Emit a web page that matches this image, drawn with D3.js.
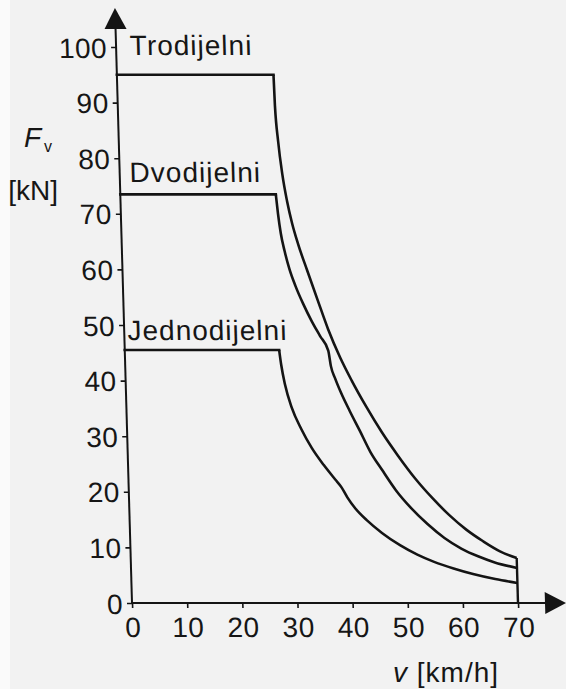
<!DOCTYPE html>
<html><head><meta charset="utf-8">
<script src="https://cdn.jsdelivr.net/npm/d3@7"></script>
<style>
html,body{margin:0;padding:0;background:#f3f3f3;}
svg{display:block;}
text{font-family:"Liberation Sans",Arial,Helvetica,sans-serif;fill:#161616;}
</style></head><body>
<svg id="chart" width="566" height="689"></svg>
<script>
// ---- data ----
const speedTicks = [0, 10, 20, 30, 40, 50, 60, 70];
const forceTicks = [0, 10, 20, 30, 40, 50, 60, 70, 80, 90, 100];
const seriesNames = ["Trodijelni", "Dvodijelni", "Jednodijelni"];

const troSpeed = [0, 28.4, 28.5, 28.9, 29.5, 30.2, 31.0, 32.0, 33.5, 35.3, 37.0, 39.0, 41.0, 43.5, 46.2, 49.0, 52.0, 55.0, 58.0, 61.0, 64.0, 67.0, 70];
const troForce = [95, 95, 89.5, 83, 77, 72.3, 68.3, 64.5, 59.8, 54.3, 49.2, 44.2, 40.0, 35.3, 30.7, 26.5, 22.4, 18.9, 15.8, 13.2, 11.1, 9.3, 8.1];

const dvoSpeed = [0, 28.2, 28.5, 28.9, 29.5, 30.3, 31.3, 32.6, 34.0, 35.5, 36.9, 37.3, 38.0, 39.0, 40.5, 42.2, 44.0, 46.0, 48.5, 51.0, 54.0, 57.0, 60.0, 63.0, 66.0, 70];
const dvoForce = [73.5, 73.5, 70, 66.5, 63.3, 60.0, 57.0, 53.8, 50.8, 48.0, 45.4, 42.6, 40.4, 37.8, 34.5, 31.0, 27.2, 24.0, 20.2, 17.2, 14.2, 11.7, 9.8, 8.4, 7.3, 6.3];

const jedSpeed = [0, 28.0, 28.3, 28.9, 30.0, 31.6, 33.4, 35.5, 37.5, 38.6, 39.6, 41.0, 43.0, 45.7, 48.9, 52.0, 55.0, 58.5, 62.0, 66.0, 70];
const jedForce = [45.5, 45.5, 42.8, 39.2, 35.1, 31.3, 27.9, 24.8, 22.2, 20.8, 19.0, 17.0, 14.9, 12.6, 10.4, 8.7, 7.4, 6.2, 5.2, 4.3, 3.6];

const seriesSpeed = [troSpeed, dvoSpeed, jedSpeed];
const seriesForce = [troForce, dvoForce, jedForce];

// ---- layout ----
const W = 566, H = 689;
const x0 = 132, x70 = 518, yBase = 603, y100 = 47;
const skewDeg = 1.64;
const ink = "#141414";

const svg = d3.select("#chart");
svg.append("rect").attr("width", W).attr("height", H).attr("fill", "#f2f2f2");
svg.append("rect").attr("width", 10).attr("height", H).attr("fill", "#fafafa");

const x = d3.scaleLinear().domain([0, 70]).range([x0, x70]);
const y = d3.scaleLinear().domain([0, 100]).range([yBase, y100]);

const g = svg.append("g")
  .attr("transform", `translate(0,${yBase}) skewX(${skewDeg}) translate(0,${-yBase})`);

// axes
const xAxis = d3.axisBottom(x).tickValues(speedTicks).tickSize(5).tickPadding(9).tickFormat(d3.format("d"));
const yAxis = d3.axisLeft(y).tickValues(forceTicks).tickSize(5).tickPadding(4).tickFormat(d3.format("d"));

const gx = g.append("g").attr("transform", `translate(0,${yBase})`).call(xAxis);
const gy = g.append("g").attr("transform", `translate(${x0},0)`).call(yAxis);

[gx, gy].forEach(a => {
  a.select(".domain").remove();
  a.selectAll(".tick line").attr("stroke", ink).attr("stroke-width", 1.6);
  a.selectAll(".tick text").attr("font-size", 28).attr("fill", ink)
    .style("letter-spacing", "0.5px")
    .attr("font-family", "'Liberation Sans', Arial, sans-serif");
});
gy.selectAll(".tick text").attr("dy", "0.36em");
gx.selectAll(".tick text").attr("dy", "0.72em");

// axis lines with arrows
g.append("line").attr("x1", x0).attr("x2", x0).attr("y1", yBase + 1).attr("y2", 26)
  .attr("stroke", ink).attr("stroke-width", 2);
g.append("path").attr("d", `M${x0},8 L${x0 + 11},29 L${x0 - 11},29 Z`).attr("fill", ink);
g.append("line").attr("x1", x0 - 1).attr("x2", 548).attr("y1", yBase).attr("y2", yBase)
  .attr("stroke", ink).attr("stroke-width", 2);
g.append("path").attr("d", `M566,${yBase} L545,${yBase - 11} L545,${yBase + 11} Z`).attr("fill", ink);

// curves: flat part straight, falling part smooth
const flatLine = d3.line().x(d => x(d[0])).y(d => y(d[1]));
const dropLine = d3.line().x(d => x(d[0])).y(d => y(d[1])).curve(d3.curveMonotoneX);

seriesSpeed.forEach((sp, i) => {
  const pts = sp.map((v, k) => [v, seriesForce[i][k]]);
  g.append("path").attr("d", flatLine(pts.slice(0, 2)))
    .attr("fill", "none").attr("stroke", ink).attr("stroke-width", 2.6).attr("stroke-linecap", "square");
  g.append("path").attr("d", dropLine(pts.slice(1)))
    .attr("fill", "none").attr("stroke", ink).attr("stroke-width", 2.6).attr("stroke-linejoin", "round");
});

// closing vertical line at v = 70
const endForce = d3.max(seriesForce, f => f[f.length - 1]);
g.append("line").attr("x1", x(70)).attr("x2", x(70)).attr("y1", y(endForce)).attr("y2", y(0))
  .attr("stroke", ink).attr("stroke-width", 2.4);

// series labels (anchored in data units)
const labelAt = [[2.5, 98.6], [1.8, 75.7], [0.6, 47.3]];
seriesNames.forEach((name, i) => {
  g.append("text").attr("x", x(labelAt[i][0])).attr("y", y(labelAt[i][1]))
    .attr("font-size", 28).style("letter-spacing", "1px").attr("fill", ink).text(name);
});

// axis titles
const ft = svg.append("text").attr("x", 24).attr("y", 147).attr("font-size", 28).attr("fill", ink);
ft.append("tspan").attr("font-style", "italic").text("F");
ft.append("tspan").attr("font-size", 16).attr("dx", 3).attr("dy", 5).text("v");
svg.append("text").attr("x", 58).attr("y", 200).attr("text-anchor", "end")
  .attr("font-size", 28).attr("fill", ink).text("[kN]");

const vt = svg.append("text").attr("x", 393).attr("y", 682).attr("font-size", 28)
  .style("letter-spacing", "1px").attr("fill", ink);
vt.append("tspan").attr("font-style", "italic").text("v");
vt.append("tspan").text(" [km/h]");
</script>
</body></html>
